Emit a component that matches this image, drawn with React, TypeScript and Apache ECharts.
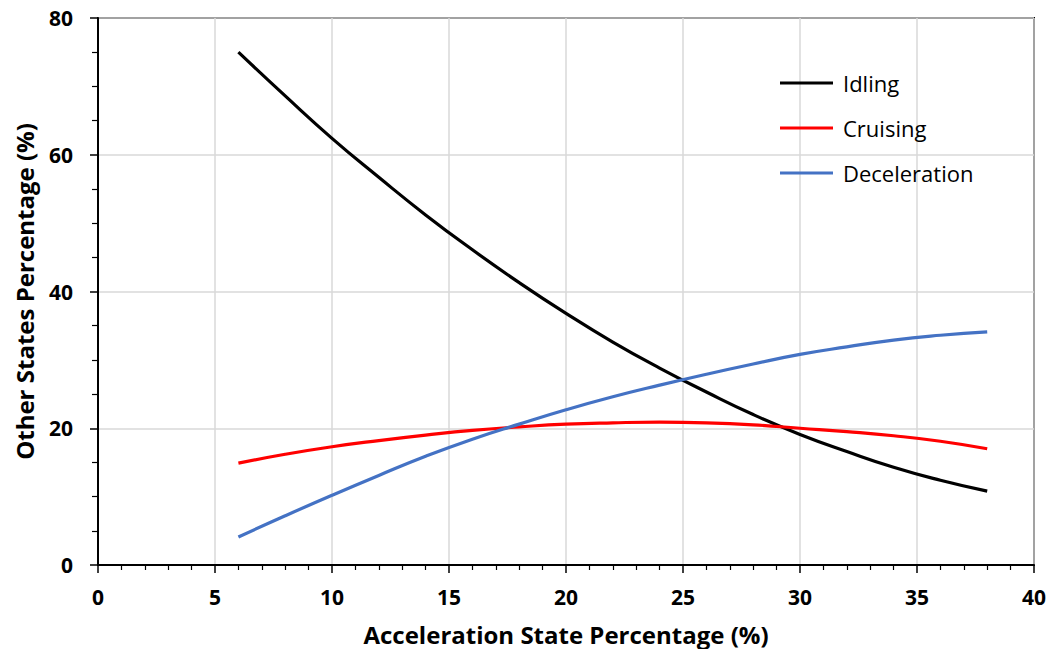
import React, { useEffect, useRef } from "react";
import * as echarts from "echarts";

// Acceleration state share (%) on the x axis
const accel = [6, 8, 10, 12, 14, 16, 18, 20, 22, 24, 26, 28, 30, 32, 34, 36, 38];

// Share of the other driving states (%)
const idling = [75.0, 68.6, 62.4, 56.7, 51.2, 46.1, 41.3, 36.8, 32.6, 28.8, 25.3, 22.0, 19.1, 16.6, 14.3, 12.4, 10.8];
const cruising = [14.9, 16.2, 17.3, 18.2, 19.0, 19.7, 20.2, 20.6, 20.8, 20.9, 20.8, 20.5, 20.0, 19.5, 18.9, 18.1, 17.0];
const deceleration = [4.1, 7.2, 10.2, 13.1, 15.9, 18.4, 20.6, 22.7, 24.6, 26.3, 27.9, 29.4, 30.8, 31.9, 32.9, 33.6, 34.1];

const seriesDefs = [
  { name: "Idling", values: idling, color: "#000000" },
  { name: "Cruising", values: cruising, color: "#ff0000" },
  { name: "Deceleration", values: deceleration, color: "#4472c4" },
];

const FONT = "'Open Sans', Lato, sans-serif";

export default function App() {
  const ref = useRef<HTMLDivElement>(null);

  useEffect(() => {
    if (!ref.current) return;
    const chart = echarts.init(ref.current, undefined, { renderer: "svg" });
    chart.setOption({
      animation: false,
      backgroundColor: "#ffffff",
      grid: {
        left: 98,
        right: 20,
        top: 18,
        bottom: 92,
        show: true,
        borderColor: "#000",
        borderWidth: 2,
      },
      legend: {
        orient: "vertical",
        left: 775,
        top: 67,
        itemWidth: 53,
        itemHeight: 20,
        itemGap: 23,
        icon: "path://M0,0 L53,0 L53,3 L0,3 Z",
        textStyle: { fontFamily: FONT, fontSize: 22, color: "#000", padding: [0, 0, 0, 5] },
        data: seriesDefs.map((s) => s.name),
      },
      xAxis: {
        type: "value",
        min: 0,
        max: 40,
        interval: 5,
        name: "Acceleration State Percentage (%)",
        nameLocation: "middle",
        nameGap: 57,
        nameTextStyle: { fontFamily: FONT, fontSize: 24, fontWeight: "bold", color: "#000" },
        axisLine: { show: true, onZero: false, lineStyle: { color: "#000", width: 2 } },
        axisTick: { show: true, inside: false, length: 8, lineStyle: { color: "#000", width: 1.5 } },
        minorTick: { show: true, splitNumber: 5, length: 5, lineStyle: { color: "#000", width: 1.2 } },
        axisLabel: { margin: 21, fontFamily: FONT, fontSize: 21, fontWeight: "bold", color: "#000" },
        splitLine: { show: true, lineStyle: { color: "#d9d9d9", width: 1.5 } },
      },
      yAxis: {
        type: "value",
        min: 0,
        max: 80,
        interval: 20,
        name: "Other States Percentage (%)",
        nameLocation: "middle",
        nameGap: 62,
        nameTextStyle: { fontFamily: FONT, fontSize: 24, fontWeight: "bold", color: "#000" },
        axisLine: { show: true, onZero: false, lineStyle: { color: "#000", width: 2 } },
        axisTick: { show: true, inside: false, length: 8, lineStyle: { color: "#000", width: 1.5 } },
        minorTick: { show: true, splitNumber: 4, length: 6, lineStyle: { color: "#000", width: 1.2 } },
        axisLabel: { margin: 25, fontFamily: FONT, fontSize: 21, fontWeight: "bold", color: "#000" },
        splitLine: { show: true, lineStyle: { color: "#d9d9d9", width: 1.5 } },
      },
      series: seriesDefs.map((s) => ({
        name: s.name,
        type: "line",
        smooth: true,
        symbol: "none",
        color: s.color,
        lineStyle: { color: s.color, width: 3.2 },
        data: accel.map((x, i) => [x, s.values[i]]),
      })),
    });
    return () => chart.dispose();
  }, []);

  return <div ref={ref} style={{ width: 1054, height: 657, margin: -8 }} />;
}
